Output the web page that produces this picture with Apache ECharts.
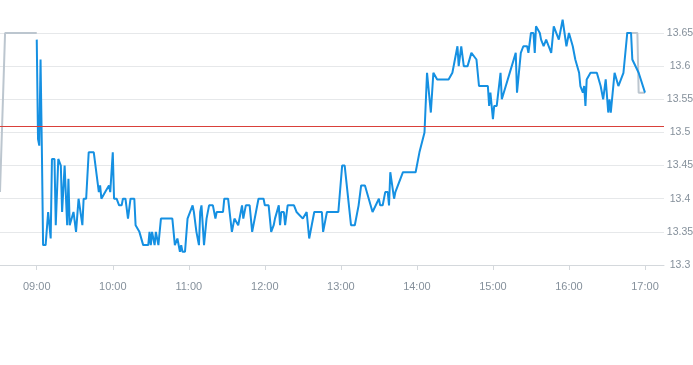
<!DOCTYPE html>
<html>
<head>
<meta charset="utf-8">
<script src="https://cdn.jsdelivr.net/npm/echarts@6/dist/echarts.min.js"></script>
<style>
html,body{margin:0;padding:0;background:#fff;}
#chart{width:693px;height:365px;}
</style>
</head>
<body>
<div id="chart"></div>
<script>
// Main session (blue)
const sessionTimes = ['09:00','09:01','09:02','09:03','09:04','09:05','09:07','09:09','09:10','09:11','09:12','09:14','09:15','09:17','09:19','09:20','09:22','09:23','09:24','09:25','09:26','09:27','09:29','09:31','09:33','09:34','09:36','09:37','09:39','09:41','09:45','09:49','09:50','09:51','09:54','09:57','09:58','10:00','10:01','10:03','10:05','10:07','10:08','10:10','10:12','10:14','10:17','10:18','10:21','10:24','10:28','10:29','10:30','10:31','10:33','10:34','10:36','10:38','10:47','10:49','10:51','10:53','10:54','10:55','10:57','10:59','11:00','11:03','11:04','11:06','11:08','11:09','11:10','11:12','11:14','11:16','11:19','11:21','11:22','11:24','11:27','11:28','11:31','11:34','11:36','11:37','11:39','11:42','11:43','11:45','11:48','11:50','11:53','11:55','11:59','12:00','12:03','12:05','12:07','12:08','12:11','12:12','12:13','12:15','12:16','12:18','12:23','12:25','12:30','12:33','12:35','12:37','12:39','12:45','12:46','12:48','12:49','12:53','12:58','13:01','13:03','13:08','13:11','13:14','13:16','13:19','13:25','13:30','13:31','13:33','13:35','13:37','13:38','13:39','13:42','13:43','13:49','13:59','14:02','14:06','14:08','14:11','14:13','14:16','14:25','14:28','14:32','14:33','14:35','14:36','14:37','14:40','14:43','14:47','14:49','14:56','14:57','14:58','15:00','15:01','15:03','15:06','15:07','15:18','15:19','15:20','15:22','15:24','15:27','15:28','15:30','15:32','15:33','15:34','15:37','15:38','15:40','15:42','15:44','15:46','15:48','15:52','15:55','15:58','16:00','16:03','16:05','16:08','16:09','16:11','16:12','16:13','16:14','16:17','16:20','16:22','16:25','16:27','16:29','16:31','16:32','16:33','16:34','16:36','16:39','16:43','16:46','16:49','16:50','16:55','17:00'];
const sessionPrices = [13.64,13.49,13.48,13.61,13.48,13.33,13.33,13.38,13.38,13.34,13.46,13.46,13.36,13.46,13.45,13.38,13.45,13.45,13.36,13.43,13.36,13.36,13.38,13.35,13.40,13.40,13.36,13.40,13.40,13.47,13.47,13.41,13.42,13.40,13.41,13.42,13.41,13.47,13.40,13.40,13.39,13.39,13.40,13.40,13.37,13.40,13.40,13.36,13.35,13.33,13.33,13.35,13.33,13.35,13.33,13.35,13.33,13.37,13.37,13.33,13.34,13.32,13.33,13.32,13.32,13.37,13.37,13.39,13.38,13.35,13.33,13.38,13.39,13.33,13.37,13.39,13.39,13.37,13.38,13.38,13.38,13.40,13.40,13.35,13.37,13.37,13.36,13.39,13.37,13.39,13.39,13.35,13.38,13.40,13.40,13.39,13.39,13.35,13.36,13.37,13.39,13.36,13.38,13.38,13.36,13.39,13.39,13.38,13.37,13.38,13.34,13.36,13.38,13.38,13.35,13.37,13.38,13.38,13.38,13.45,13.45,13.36,13.36,13.39,13.42,13.42,13.38,13.40,13.39,13.39,13.41,13.41,13.39,13.44,13.40,13.41,13.44,13.44,13.47,13.50,13.59,13.53,13.59,13.58,13.58,13.59,13.63,13.60,13.63,13.63,13.60,13.60,13.62,13.61,13.57,13.57,13.54,13.56,13.52,13.54,13.54,13.59,13.55,13.62,13.56,13.56,13.62,13.63,13.63,13.62,13.65,13.65,13.62,13.66,13.65,13.64,13.63,13.64,13.63,13.62,13.66,13.64,13.67,13.63,13.65,13.63,13.61,13.59,13.57,13.56,13.57,13.54,13.58,13.59,13.59,13.59,13.57,13.55,13.58,13.53,13.55,13.53,13.53,13.59,13.57,13.59,13.65,13.65,13.61,13.59,13.56];

// Extended hours (grey): pre-market and after-hours
const preTimes = ['08:31','08:35','09:00'];
const prePrices = [13.41,13.65,13.65];
const postTimes = ['16:45','16:54','16:55','17:00'];
const postPrices = [13.65,13.65,13.56,13.56];

const referencePrice = 13.51;
const yTicks = [13.3,13.35,13.4,13.45,13.5,13.55,13.6,13.65];
const axisStart = '08:31';
const axisEnd = '17:15';

function ts(hm){const p=hm.split(':');return new Date(2024,0,2,+p[0],+p[1]).getTime();}
function pairs(t,v){return t.map((x,i)=>[ts(x),v[i]]);}

const chart = echarts.init(document.getElementById('chart'));
chart.setOption({
  animation:false,
  grid:{left:0,right:29,top:33,bottom:100,containLabel:false,outerBoundsMode:'none'},
  xAxis:{
    type:'time',
    min:ts(axisStart),max:ts(axisEnd),
    minInterval:3600000,maxInterval:3600000,
    axisLine:{lineStyle:{color:'#d4d8dc'}},
    axisTick:{show:true,length:5,lineStyle:{color:'#d4d8dc'}},
    splitLine:{show:false},
    axisLabel:{formatter:'{HH}:{mm}',color:'#85909b',fontSize:11,fontFamily:'Liberation Sans, Arial, sans-serif',margin:16,showMinLabel:false,showMaxLabel:false}
  },
  yAxis:{
    type:'value',position:'right',
    min:yTicks[0],max:yTicks[yTicks.length-1],interval:0.05,
    axisLine:{show:false},axisTick:{show:false},
    splitLine:{lineStyle:{color:'#e6e8ea'}},
    axisLabel:{color:'#85909b',fontSize:10.5,fontFamily:'Liberation Sans, Arial, sans-serif',align:'center',margin:16,padding:[3,0,0,0],
      formatter:v=>String(+v.toFixed(2))}
  },
  series:[
    {type:'line',data:pairs(preTimes,prePrices),showSymbol:false,symbol:'none',lineStyle:{color:'#bcc6cf',width:2},clip:false,z:2},
    {type:'line',data:pairs(postTimes,postPrices),showSymbol:false,symbol:'none',lineStyle:{color:'#bcc6cf',width:2},clip:false,z:2},
    {type:'line',data:pairs(sessionTimes,sessionPrices),showSymbol:false,symbol:'none',lineStyle:{color:'#1590e2',width:2},clip:false,z:3,
      markLine:{silent:true,symbol:['none','none'],label:{show:false},lineStyle:{color:'#d9403a',width:1,type:'solid'},data:[{yAxis:referencePrice}]}}
  ]
});
</script>
</body>
</html>
